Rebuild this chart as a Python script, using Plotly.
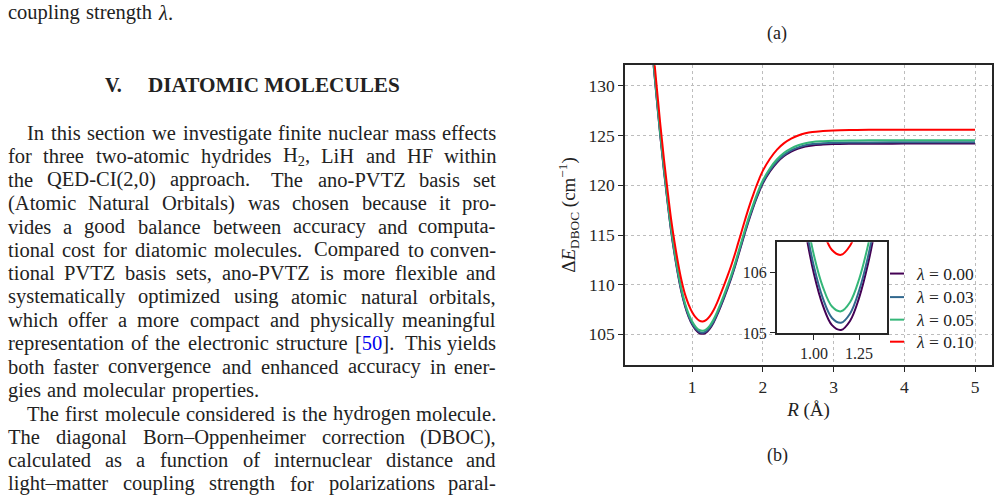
import plotly.graph_objects as go

# ---------------- data ----------------
R = [0.40, 0.45, 0.50, 0.55, 0.60, 0.65, 0.70, 0.75, 0.80, 0.85,
     0.90, 0.95, 1.00, 1.05, 1.10, 1.15, 1.20, 1.25, 1.30, 1.35,
     1.40, 1.45, 1.50, 1.55, 1.60, 1.65, 1.70, 1.75, 1.80, 1.85,
     1.90, 1.95, 2.00, 2.10, 2.20, 2.30, 2.40, 2.50, 2.60, 2.70,
     2.85, 3.00, 3.25, 3.50, 4.00, 4.50, 5.00]

E_l000 = [136.4, 132.4, 128.6, 124.9, 121.5, 118.4, 115.5, 113.1, 111.0, 109.2,
          107.8, 106.75, 105.98, 105.45, 105.13, 105.05, 105.2, 105.58, 106.15, 106.9,
          107.75, 108.65, 109.6, 110.6, 111.7, 112.9, 114.1, 115.3, 116.45, 117.5,
          118.5, 119.4, 120.2, 121.4, 122.3, 122.95, 123.4, 123.7, 123.9, 124.02,
          124.1, 124.15, 124.18, 124.19, 124.2, 124.2, 124.2]

E_l003 = [136.52, 132.52, 128.72, 125.02, 121.62, 118.52, 115.62, 113.22, 111.12, 109.32,
          107.92, 106.87, 106.10, 105.57, 105.25, 105.17, 105.32, 105.70, 106.27, 107.02,
          107.87, 108.77, 109.72, 110.72, 111.82, 113.02, 114.22, 115.42, 116.57, 117.62,
          118.62, 119.52, 120.32, 121.52, 122.42, 123.07, 123.52, 123.82, 124.03, 124.15,
          124.23, 124.28, 124.31, 124.32, 124.33, 124.33, 124.33]

E_l005 = [136.71, 132.71, 128.91, 125.21, 121.81, 118.71, 115.81, 113.41, 111.31, 109.51,
          108.11, 107.06, 106.29, 105.76, 105.44, 105.36, 105.51, 105.89, 106.46, 107.21,
          108.07, 108.97, 109.92, 110.92, 112.02, 113.22, 114.42, 115.62, 116.77, 117.82,
          118.82, 119.72, 120.52, 121.72, 122.62, 123.28, 123.73, 124.03, 124.23, 124.36,
          124.44, 124.49, 124.52, 124.53, 124.54, 124.54, 124.54]

E_l010 = [137.6, 133.6, 129.8, 126.1, 122.7, 119.6, 116.7, 114.3, 112.2, 110.4,
          109.0, 108.0, 107.23, 106.70, 106.38, 106.30, 106.45, 106.83, 107.40, 108.15,
          109.03, 109.93, 110.88, 111.88, 112.98, 114.18, 115.38, 116.58, 117.73, 118.78,
          119.78, 120.68, 121.48, 122.68, 123.6, 124.25, 124.7, 125.02, 125.24, 125.38,
          125.47, 125.53, 125.57, 125.59, 125.6, 125.6, 125.6]

lambda_labels = ["0.00", "0.03", "0.05", "0.10"]
series = [E_l000, E_l003, E_l005, E_l010]
colors = ["#440154", "#31688e", "#35b779", "#ff0000"]

main_xticks = [1, 2, 3, 4, 5]
main_yticks = [105, 110, 115, 120, 125, 130]
inset_xticks = [1.00, 1.25]
inset_xticklabels = ["1.00", "1.25"]
inset_yticks = [105, 106]

# ---------------- page geometry ----------------
W, H = 999, 503
H_MAP = 493          # vertical mapping used for placing items on the page
def px(x):
    return x / W
def py(y):
    return 1 - y / H_MAP

SERIF = "Liberation Serif, Times New Roman, serif"
TXT = "#222222"

fig = go.Figure()

for lab, ys, c in zip(lambda_labels, series, colors):
    fig.add_trace(go.Scatter(x=R, y=ys, mode="lines", line=dict(color=c, width=2, shape="spline"),
                             name="λ = " + lab, showlegend=False, xaxis="x", yaxis="y"))
for lab, ys, c in zip(lambda_labels, series, colors):
    fig.add_trace(go.Scatter(x=R, y=ys, mode="lines", line=dict(color=c, width=2, shape="spline"),
                             name="λ = " + lab, showlegend=False, xaxis="x2", yaxis="y2"))

axis_common = dict(showline=True, linecolor="#262626", linewidth=1.6, mirror=True,
                   ticks="outside", ticklen=5, tickwidth=1.2, tickcolor="#262626",
                   tickfont=dict(family=SERIF, size=17.5, color="#262626"),
                   zeroline=False)
inset_font = dict(family=SERIF, size=16, color="#262626")

fig.update_layout(
    width=W, height=H,
    margin=dict(l=0, r=0, t=0, b=0),
    paper_bgcolor="white", plot_bgcolor="white",
    showlegend=False,
    xaxis=dict(domain=[px(625), px(992)], range=[0.05, 5.24], anchor="y",
               tickvals=main_xticks, showgrid=True, gridcolor="#bdbdbd", griddash="dot", gridwidth=1,
               title=dict(text="<i>R</i> (Å)", font=dict(family=SERIF, size=19, color=TXT), standoff=7),
               **axis_common),
    yaxis=dict(domain=[py(364), py(65)], range=[101.94, 132.1], anchor="x",
               tickvals=main_yticks, showgrid=True, gridcolor="#bdbdbd", griddash="dot", gridwidth=1,
               title=dict(text="Δ<i>E</i><sub>DBOC</sub> (cm<sup>−1</sup>)",
                          font=dict(family=SERIF, size=19, color=TXT), standoff=8),
               **axis_common),
    xaxis2=dict(domain=[px(776.7), px(887.3)], range=[0.793, 1.407], anchor="y2",
                tickvals=inset_xticks, ticktext=inset_xticklabels, showgrid=False,
                **{**axis_common, "tickfont": inset_font}),
    yaxis2=dict(domain=[py(332.3), py(241.7)], range=[105.0, 106.51], anchor="x2",
                tickvals=inset_yticks, showgrid=False,
                **{**axis_common, "tickfont": inset_font}),
)

annotations = []
shapes = []

# manual legend
leg_y = [273, 296.5, 319, 341]
for lab, c, yy in zip(lambda_labels, colors, leg_y):
    shapes.append(dict(type="line", xref="paper", yref="paper", x0=px(890), x1=px(904),
                       y0=py(yy), y1=py(yy), line=dict(color=c, width=2)))
    annotations.append(dict(xref="paper", yref="paper", x=px(915), y=py(yy), xanchor="left",
                            yanchor="middle", showarrow=False, borderpad=0,
                            text="<i>λ</i> = " + lab, font=dict(family=SERIF, size=17.5, color=TXT)))

# panel labels
annotations.append(dict(xref="paper", yref="paper", x=px(777), y=py(33), xanchor="center", yanchor="middle",
                        showarrow=False, text="(a)", font=dict(family=SERIF, size=18, color=TXT)))
annotations.append(dict(xref="paper", yref="paper", x=px(777), y=py(455), xanchor="center", yanchor="middle",
                        showarrow=False, text="(b)", font=dict(family=SERIF, size=18, color=TXT)))

# ---------------- left text column ----------------
CW = {' ': 250, '(': 333, ')': 333, ',': 250, '-': 333, '.': 250, ':': 278, '[': 333, ']': 333,
      '–': 500, '0': 500, '1': 500, '2': 500, '3': 500, '4': 500, '5': 500, '6': 500, '7': 500,
      '8': 500, '9': 500,
      'A': 722, 'B': 667, 'C': 667, 'D': 722, 'E': 611, 'F': 556, 'G': 722, 'H': 722, 'I': 333,
      'J': 389, 'K': 722, 'L': 611, 'M': 889, 'N': 722, 'O': 722, 'P': 556, 'Q': 722, 'R': 667,
      'S': 556, 'T': 611, 'U': 722, 'V': 722, 'W': 944, 'X': 722, 'Y': 722, 'Z': 611,
      'a': 444, 'b': 500, 'c': 444, 'd': 500, 'e': 444, 'f': 333, 'g': 500, 'h': 500, 'i': 278,
      'j': 278, 'k': 500, 'l': 278, 'm': 778, 'n': 500, 'o': 500, 'p': 500, 'q': 500, 'r': 333,
      's': 389, 't': 278, 'u': 500, 'v': 500, 'w': 722, 'x': 500, 'y': 500, 'z': 444}

SPECIAL = {
    "H2,": ("H<sub>2</sub>,", 722 + 350 + 250),
    "λ.": ("<i>λ</i>.", 500 + 250),
    "[50].": ("[<span style='color:#0000ee'>50</span>].", 333 + 1000 + 333 + 250),
}

BODY = 20.5
LEFT, RIGHT, INDENT = 6.5, 496.5, 19.5

def word_info(w):
    if w in SPECIAL:
        html, units = SPECIAL[w]
    else:
        html, units = w, sum(CW.get(ch, 500) for ch in w)
    return html, units * BODY / 1000

def set_line(text, y_center, indent=False, justify=True):
    words = text.split()
    infos = [word_info(w) for w in words]
    x0 = LEFT + (INDENT if indent else 0)
    total = sum(i[1] for i in infos)
    weights = [1.5 if w.endswith('.') else 1.0 for w in words[:-1]]
    if justify and len(words) > 1:
        unit = (RIGHT - x0 - total) / sum(weights)
    else:
        unit = 0.32 * BODY
    x = x0
    yy = y_center - 2.2
    for k, (html, wd) in enumerate(infos):
        last = justify and k == len(infos) - 1 and len(infos) > 1
        annotations.append(dict(xref="paper", yref="paper",
                                x=px(RIGHT if last else x), y=py(yy),
                                xanchor="right" if last else "left", yanchor="middle",
                                showarrow=False, borderpad=0, text=html,
                                font=dict(family=SERIF, size=BODY, color=TXT)))
        if k < len(weights):
            x += wd + unit * weights[k]

set_line("coupling strength λ.", 15, justify=False)

annotations.append(dict(xref="paper", yref="paper", x=px(104), y=py(85.3), xanchor="left", yanchor="middle",
                        showarrow=False, borderpad=0, text="<b>V.</b>",
                        font=dict(family=SERIF, size=20, color=TXT)))
annotations.append(dict(xref="paper", yref="paper", x=px(146.7), y=py(85.3), xanchor="left", yanchor="middle",
                        showarrow=False, borderpad=0, text="<b>DIATOMIC MOLECULES</b>",
                        font=dict(family=SERIF, size=21.2, color=TXT)))

body = [
    ("In this section we investigate finite nuclear mass effects", True, True),
    ("for three two-atomic hydrides H2, LiH and HF within", False, True),
    ("the QED-CI(2,0) approach. The ano-PVTZ basis set", False, True),
    ("(Atomic Natural Orbitals) was chosen because it pro-", False, True),
    ("vides a good balance between accuracy and computa-", False, True),
    ("tional cost for diatomic molecules. Compared to conven-", False, True),
    ("tional PVTZ basis sets, ano-PVTZ is more flexible and", False, True),
    ("systematically optimized using atomic natural orbitals,", False, True),
    ("which offer a more compact and physically meaningful", False, True),
    ("representation of the electronic structure [50]. This yields", False, True),
    ("both faster convergence and enhanced accuracy in ener-", False, True),
    ("gies and molecular properties.", False, False),
    ("The first molecule considered is the hydrogen molecule.", True, True),
    ("The diagonal Born–Oppenheimer correction (DBOC),", False, True),
    ("calculated as a function of internuclear distance and", False, True),
    ("light–matter coupling strength for polarizations paral-", False, True),
]
for k, (t, ind, just) in enumerate(body):
    set_line(t, 135 + k * 23.333, indent=ind, justify=just)

fig.update_layout(annotations=annotations, shapes=shapes)

fig.write_html("out.html")
